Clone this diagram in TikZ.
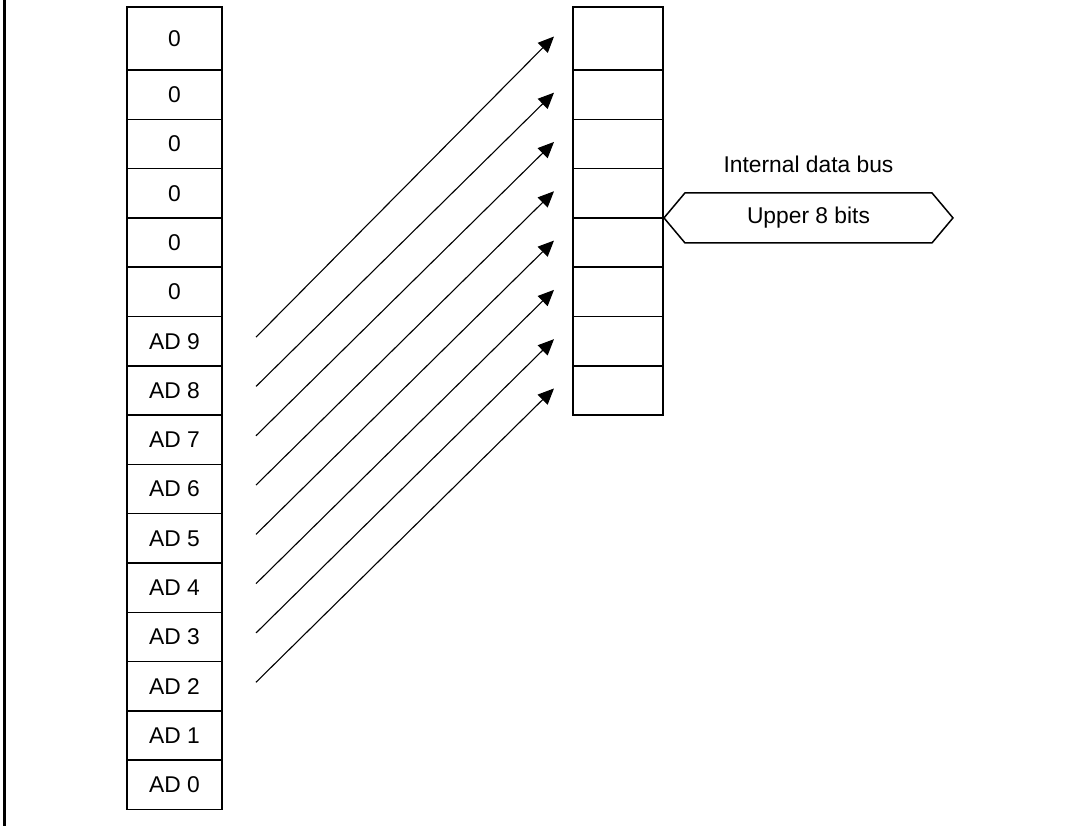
\documentclass[tikz,border=0pt]{standalone}
\usepackage{fontspec}
\setmainfont{Liberation Sans}
\usetikzlibrary{positioning,arrows.meta,shapes.symbols,calc}
\tikzset{
  regcell/.style={draw,line width=.75pt,inner sep=0pt,outer sep=0pt,minimum width=47.5pt,minimum height=24.65pt},
  regtop/.style={regcell,minimum height=31.5pt},
  bytecell/.style={regcell,minimum width=45pt},
  bytetop/.style={regtop,minimum width=45pt},
  bitarr/.style={-{Triangle[length=8pt,width=7pt]},line width=.55pt},
  busbox/.style={draw,line width=.75pt,shape=signal,signal to=east and west,signal pointer angle=100,minimum width=144.5pt,minimum height=25pt,inner sep=0pt},
}

\begin{document}
\begin{tikzpicture}[x=0.5pt,y=-0.5pt,font=\fontsize{11.4}{13.7}\selectfont]
  \useasboundingbox (0,0) rectangle (1067,826);
  \draw[line width=1.3pt] (4.7,0) -- (4.7,826);
  % conversion result register
  \node[regtop,anchor=north] (lrow1) at (174.5,7) {0};
  \foreach \lbl [count=\i from 2] in {0,0,0,0,0,AD 9,AD 8,AD 7,AD 6,AD 5,AD 4,AD 3,AD 2,AD 1,AD 0}{
    \pgfmathtruncatemacro\prev{\i-1}
    \node[regcell,below=0pt of lrow\prev] (lrow\i) {\lbl};
  }
  % upper byte
  \node[bytetop,anchor=north] (rrow1) at (618,7) {};
  \foreach \i in {2,...,8}{
    \pgfmathtruncatemacro\prev{\i-1}
    \node[bytecell,below=0pt of rrow\prev] (rrow\i) {};
  }
  \foreach \i in {1,...,8}{
    \pgfmathtruncatemacro\src{\i+6}
    \draw[bitarr] ($(lrow\src.east)+(34,-4)$) -- ($(rrow\i.west)+(-19,-2)$);
  }
  % bus
  \node[busbox,anchor=west] (bus) at (rrow4.south east) {Upper 8 bits};
  \node[above=9.5pt of bus,inner sep=0pt] (buslabel) {Internal data bus};
\end{tikzpicture}
\end{document}
